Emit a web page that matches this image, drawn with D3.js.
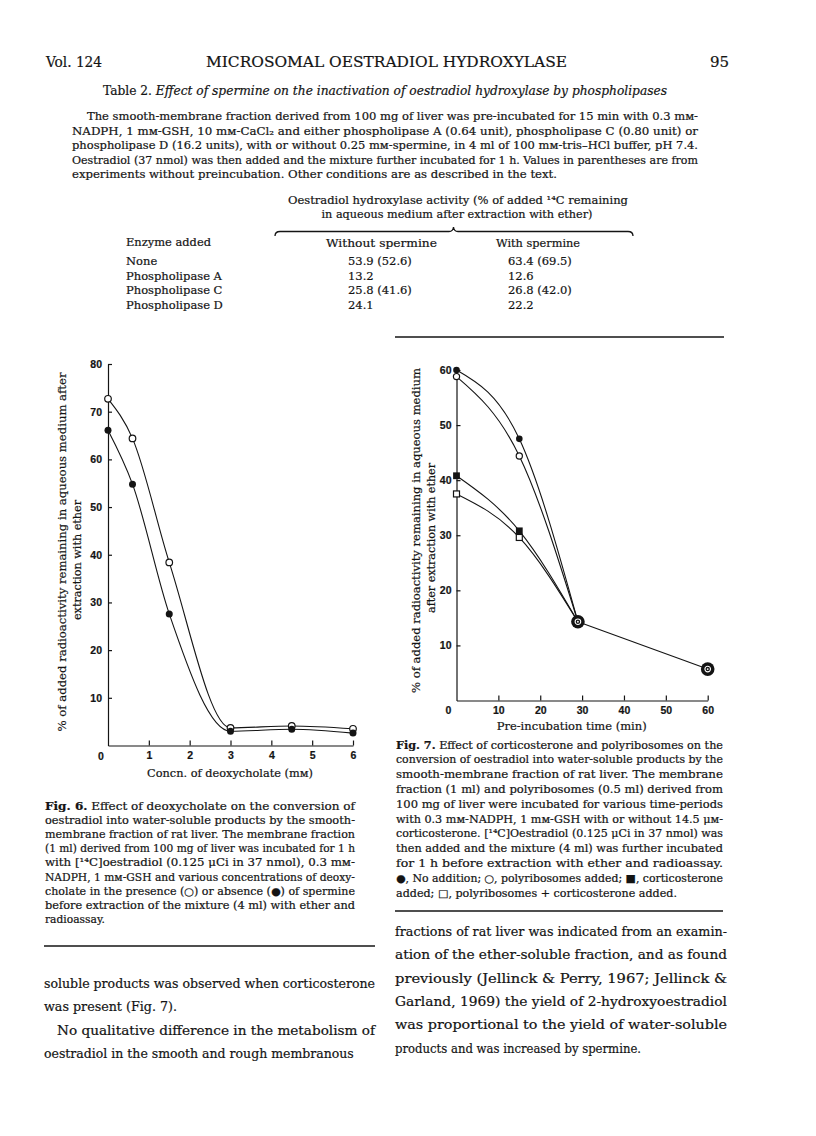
<!DOCTYPE html>
<meta charset="utf-8">
<style>
	body {
		margin: 0;
		background: #ffffff;
	}
	svg text {
		fill: #141414;
		stroke: #141414;
		stroke-width: 0.2px;
		font-family: 'DejaVu Serif', serif;
	}
	.tick text,
	.zero {
		font-family: 'Liberation Sans', 'DejaVu Sans', sans-serif;
		font-weight: bold;
		font-size: 10.5px;
	}
	.axis path,
	.axis line {
		fill: none;
		stroke: #141414;
		stroke-width: 1.2px;
	}
	.curve {
		fill: none;
		stroke: #141414;
		stroke-width: 1.1px;
	}
	.rule {
		stroke: #141414;
		stroke-width: 1.6px;
	}
</style>
<body>
<svg id="page" width="816" height="1136"></svg>

<script src="https://cdn.jsdelivr.net/npm/d3@7"></script>
<script>

// ---- Table 2 ----
var enzymes = ["None", "Phospholipase A", "Phospholipase C", "Phospholipase D"];
var withoutSpermine = [53.9, 13.2, 25.8, 24.1];
var withoutSpermineNoPre = [52.6, null, 41.6, null];
var withSpermine = [63.4, 12.6, 26.8, 22.2];
var withSpermineNoPre = [69.5, null, 42.0, null];

// ---- Fig. 6: deoxycholate ----
var deoxy = [0, 0.6, 1.5, 3, 4.5, 6];
var spermineOpen = [72.7, 64.4, 38.4, 3.7, 4.1, 3.5];    // presence of spermine
var spermineFilled = [66.1, 54.8, 27.6, 3.0, 3.4, 2.6];  // absence of spermine
var fig6YTicks = [10, 20, 30, 40, 50, 60, 70, 80];
var fig6XTicks = [1, 2, 3, 4, 5, 6];

// ---- Fig. 7: pre-incubation ----
var preTime = [0, 15, 29];
var noAddition = [60.0, 47.5, 14.3];
var polyribosomes = [58.8, 44.4, 14.3];
var corticosterone = [40.8, 30.8, 14.3];
var polyCortico = [37.5, 29.6, 14.3];
var sharedTime = [29, 60];
var sharedValue = [14.3, 5.7];
var fig7YTicks = [10, 20, 30, 40, 50, 60];
var fig7XTicks = [10, 20, 30, 40, 50, 60];

// ---- page text ----
var tableNote = [
	"¶The smooth-membrane fraction derived from 100 mg of liver was pre-incubated for 15 min with 0.3 mᴍ-",
	"NADPH, 1 mᴍ-GSH, 10 mᴍ-CaCl₂ and either phospholipase A (0.64 unit), phospholipase C (0.80 unit) or",
	"phospholipase D (16.2 units), with or without 0.25 mᴍ-spermine, in 4 ml of 100 mᴍ-tris–HCl buffer, pH 7.4.",
	"Oestradiol (37 nmol) was then added and the mixture further incubated for 1 h.  Values in parentheses are from",
	"experiments without preincubation.  Other conditions are as described in the text."
];
var fig6Caption = [
	"Fig. 6.  Effect of deoxycholate on the conversion of",
	"oestradiol into water-soluble products by the smooth-",
	"membrane fraction of rat liver.  The membrane fraction",
	"(1 ml) derived from 100 mg of liver was incubated for 1 h",
	"with [¹⁴C]oestradiol (0.125 μCi in 37 nmol), 0.3 mᴍ-",
	"NADPH, 1 mᴍ-GSH and various concentrations of deoxy-",
	"cholate in the presence (○) or absence (●) of spermine",
	"before extraction of the mixture (4 ml) with ether and",
	"radioassay."
];
var fig7Caption = [
	"Fig. 7.  Effect of corticosterone and polyribosomes on the",
	"conversion of oestradiol into water-soluble products by the",
	"smooth-membrane fraction of rat liver.  The membrane",
	"fraction (1 ml) and polyribosomes (0.5 ml) derived from",
	"100 mg of liver were incubated for various time-periods",
	"with 0.3 mᴍ-NADPH, 1 mᴍ-GSH with or without 14.5 μᴍ-",
	"corticosterone.  [¹⁴C]Oestradiol (0.125 μCi in 37 nmol) was",
	"then added and the mixture (4 ml) was further incubated",
	"for 1 h before extraction with ether and radioassay.",
	"●, No addition; ○, polyribosomes added; ■, corticosterone",
	"added; □, polyribosomes + corticosterone added."
];
var leftColumn = [
	"soluble products was observed when corticosterone",
	"was present (Fig. 7).",
	"¶No qualitative difference in the metabolism of",
	"oestradiol in the smooth and rough membranous"
];
var rightColumn = [
	"fractions of rat liver was indicated from an examin-",
	"ation of the ether-soluble fraction, and as found",
	"previously (Jellinck & Perry, 1967; Jellinck &",
	"Garland, 1969) the yield of 2-hydroxyoestradiol",
	"was proportional to the yield of water-soluble",
	"products and was increased by spermine."
];

var svg = d3.select("#page");

// justified block of lines; "¶" marks an indented first line,
// short lines get the width they have on the page
function textBlock(lines, x, y, w, lh, size, indent, shortWidths) {
	var g = svg.append("g").style("font-size", size + "px");
	lines.forEach(function (s, i) {
		var ind = s.charAt(0) === "¶" ? indent : 0;
		var str = s.replace("¶", "");
		var last = i === lines.length - 1 || lines[i + 1].charAt(0) === "¶";
		var t = g.append("text")
			.attr("x", x + ind)
			.attr("y", y + i * lh);
		var m = str.match(/^(Fig\. \d\.)(.*)$/);
		if (m) {
			t.append("tspan").style("font-weight", "bold").text(m[1]);
			t.append("tspan").text(m[2]);
		} else {
			t.text(str);
		}
		var len = last ? (shortWidths && shortWidths[i]) : w - ind;
		if (len) {
			t.attr("textLength", len).attr("lengthAdjust", "spacingAndGlyphs");
		}
	});
}

// ---- running head ----
svg.append("text").attr("x", 46).attr("y", 67).style("font-size", "15px")
	.attr("textLength", 56).attr("lengthAdjust", "spacingAndGlyphs").text("Vol. 124");
svg.append("text").attr("x", 206).attr("y", 67).style("font-size", "15px")
	.attr("textLength", 361).attr("lengthAdjust", "spacingAndGlyphs").text("MICROSOMAL OESTRADIOL HYDROXYLASE");
svg.append("text").attr("x", 729).attr("y", 67).style("font-size", "15px")
	.attr("text-anchor", "end").text("95");

// ---- Table 2 ----
var cap = svg.append("text").attr("x", 103).attr("y", 95).style("font-size", "12px")
	.attr("textLength", 564).attr("lengthAdjust", "spacingAndGlyphs");
cap.append("tspan").text("Table 2.  ");
cap.append("tspan").style("font-style", "italic")
	.text("Effect of spermine on the inactivation of oestradiol hydroxylase by phospholipases");

textBlock(tableNote, 72, 120, 626, 14.6, 11, 15, {4: 485});

svg.append("text").attr("x", 458).attr("y", 203.5).attr("text-anchor", "middle").style("font-size", "11.5px")
	.attr("textLength", 340).attr("lengthAdjust", "spacingAndGlyphs")
	.text("Oestradiol hydroxylase activity (% of added ¹⁴C remaining");
svg.append("text").attr("x", 457).attr("y", 218).attr("text-anchor", "middle").style("font-size", "11.5px")
	.attr("textLength", 271).attr("lengthAdjust", "spacingAndGlyphs")
	.text("in aqueous medium after extraction with ether)");

svg.append("path")
	.attr("d", "M275,236 Q275,231.5 280,231.5 L449,231.5 Q453,231.5 453.5,227 Q454,231.5 458,231.5 L628,231.5 Q633,231.5 633,236")
	.attr("fill", "none").attr("stroke", "#141414").attr("stroke-width", 1.3);

var heads = svg.append("g").style("font-size", "11.5px");
heads.append("text").attr("x", 126).attr("y", 246).attr("textLength", 85)
	.attr("lengthAdjust", "spacingAndGlyphs").text("Enzyme added");
heads.append("text").attr("x", 326).attr("y", 247).attr("textLength", 111)
	.attr("lengthAdjust", "spacingAndGlyphs").text("Without spermine");
heads.append("text").attr("x", 496).attr("y", 247).attr("textLength", 84)
	.attr("lengthAdjust", "spacingAndGlyphs").text("With spermine");

function cell(v, p) {
	return v.toFixed(1) + (p === null ? "" : " (" + p.toFixed(1) + ")");
}
var rowY = d3.scalePoint().domain(enzymes).range([265, 309]);
var rows = svg.append("g").style("font-size", "11.5px")
	.selectAll("g").data(enzymes).enter().append("g");
rows.append("text").attr("x", 126).attr("y", function (d) { return rowY(d); }).text(function (d) { return d; });
rows.append("text").attr("x", 348).attr("y", function (d) { return rowY(d); })
	.text(function (d, i) { return cell(withoutSpermine[i], withoutSpermineNoPre[i]); });
rows.append("text").attr("x", 508).attr("y", function (d) { return rowY(d); })
	.text(function (d, i) { return cell(withSpermine[i], withSpermineNoPre[i]); });

// ---- Fig. 6 ----
var x6 = d3.scaleLinear().domain([0, 6]).range([108, 353]);
var y6 = d3.scaleLinear().domain([0, 80]).range([745.5, 364]);
var fig6 = svg.append("g");
var intFmt = d3.format("d");

fig6.append("g").attr("class", "axis").attr("transform", "translate(" + x6(0) + ",0)")
	.call(d3.axisLeft(y6).tickValues(fig6YTicks).tickFormat(intFmt).tickSize(-4).tickSizeOuter(0).tickPadding(6));
fig6.append("g").attr("class", "axis").attr("transform", "translate(0," + y6(0) + ")")
	.call(d3.axisBottom(x6).tickValues(fig6XTicks).tickFormat(intFmt).tickSize(-5).tickSizeOuter(0).tickPadding(6.5));
fig6.append("text").attr("class", "zero").attr("x", x6(0) - 7).attr("y", y6(0) + 14)
	.attr("text-anchor", "middle").text("0");

var line6 = d3.line()
	.x(function (d, i) { return x6(deoxy[i]); })
	.y(function (d) { return y6(d); })
	.curve(d3.curveMonotoneX);
fig6.append("path").attr("class", "curve").attr("d", line6(spermineOpen));
fig6.append("path").attr("class", "curve").attr("d", line6(spermineFilled));

fig6.selectAll(".open6").data(spermineOpen).enter().append("circle")
	.attr("cx", function (d, i) { return x6(deoxy[i]); })
	.attr("cy", function (d) { return y6(d); })
	.attr("r", 3.3).attr("fill", "#fff").attr("stroke", "#141414").attr("stroke-width", 1.2);
fig6.selectAll(".filled6").data(spermineFilled).enter().append("circle")
	.attr("cx", function (d, i) { return x6(deoxy[i]); })
	.attr("cy", function (d) { return y6(d); })
	.attr("r", 3.5).attr("fill", "#141414");

fig6.append("text").attr("transform", "translate(65.5,552) rotate(-90)").attr("text-anchor", "middle")
	.style("font-size", "11.5px").attr("textLength", 359).attr("lengthAdjust", "spacingAndGlyphs")
	.text("% of added radioactivity remaining in aqueous medium after");
fig6.append("text").attr("transform", "translate(80.5,560) rotate(-90)").attr("text-anchor", "middle")
	.style("font-size", "11.5px").attr("textLength", 120).attr("lengthAdjust", "spacingAndGlyphs")
	.text("extraction with ether");
fig6.append("text").attr("x", 230).attr("y", 777).attr("text-anchor", "middle")
	.style("font-size", "11.5px").attr("textLength", 166).attr("lengthAdjust", "spacingAndGlyphs")
	.text("Concn. of deoxycholate (mᴍ)");

// ---- Fig. 7 ----
var x7 = d3.scaleLinear().domain([0, 60]).range([456.5, 707.7]);
var y7 = d3.scaleLinear().domain([0, 60]).range([700.5, 370]);
var fig7 = svg.append("g");

fig7.append("g").attr("class", "axis").attr("transform", "translate(" + x7(0) + ",0)")
	.call(d3.axisLeft(y7).tickValues(fig7YTicks).tickFormat(intFmt).tickSize(-4).tickSizeOuter(0).tickPadding(5));
fig7.append("g").attr("class", "axis").attr("transform", "translate(0," + y7(0) + ")")
	.call(d3.axisBottom(x7).tickValues(fig7XTicks).tickFormat(intFmt).tickSize(-5).tickSizeOuter(0).tickPadding(6));
fig7.append("text").attr("class", "zero").attr("x", x7(0) - 8).attr("y", y7(0) + 13.5)
	.attr("text-anchor", "middle").text("0");

var line7 = d3.line()
	.x(function (d, i) { return x7(preTime[i]); })
	.y(function (d) { return y7(d); })
	.curve(d3.curveMonotoneX);
[noAddition, polyribosomes, corticosterone, polyCortico].forEach(function (s) {
	fig7.append("path").attr("class", "curve").attr("d", line7(s));
});
fig7.append("path").attr("class", "curve")
	.attr("d", d3.line()
		.x(function (d, i) { return x7(sharedTime[i]); })
		.y(function (d) { return y7(d); })(sharedValue));

// first two points of each series carry their own symbol
function firstTwo(s) { return s.slice(0, 2); }
fig7.selectAll(".c1").data(firstTwo(noAddition)).enter().append("circle")
	.attr("cx", function (d, i) { return x7(preTime[i]); }).attr("cy", function (d) { return y7(d); })
	.attr("r", 3.3).attr("fill", "#141414");
fig7.selectAll(".c2").data(firstTwo(polyribosomes)).enter().append("circle")
	.attr("cx", function (d, i) { return x7(preTime[i]); }).attr("cy", function (d) { return y7(d); })
	.attr("r", 3.1).attr("fill", "#fff").attr("stroke", "#141414").attr("stroke-width", 1.2);
fig7.selectAll(".s1").data(firstTwo(corticosterone)).enter().append("rect")
	.attr("x", function (d, i) { return x7(preTime[i]) - 3.4; }).attr("y", function (d) { return y7(d) - 3.4; })
	.attr("width", 6.8).attr("height", 6.8).attr("fill", "#141414");
fig7.selectAll(".s2").data(firstTwo(polyCortico)).enter().append("rect")
	.attr("x", function (d, i) { return x7(preTime[i]) - 3; }).attr("y", function (d) { return y7(d) - 3; })
	.attr("width", 6).attr("height", 6).attr("fill", "#fff").attr("stroke", "#141414").attr("stroke-width", 1.2);

// coincident points: all four symbols overlaid
var shared = fig7.selectAll(".shared").data(sharedValue).enter().append("g")
	.attr("transform", function (d, i) { return "translate(" + x7(sharedTime[i]) + "," + y7(d) + ")"; });
shared.append("circle").attr("r", 6.8).attr("fill", "#141414");
shared.append("circle").attr("r", 2.8).attr("fill", "none").attr("stroke", "#fff").attr("stroke-width", 1.1);
shared.append("circle").attr("r", 0.9).attr("fill", "#fff");

fig7.append("text").attr("transform", "translate(419.5,530.5) rotate(-90)").attr("text-anchor", "middle")
	.style("font-size", "11.5px").attr("textLength", 325).attr("lengthAdjust", "spacingAndGlyphs")
	.text("% of added radioactivity remaining in aqueous medium");
fig7.append("text").attr("transform", "translate(434.5,538) rotate(-90)").attr("text-anchor", "middle")
	.style("font-size", "11.5px").attr("textLength", 150).attr("lengthAdjust", "spacingAndGlyphs")
	.text("after extraction with ether");
fig7.append("text").attr("x", 571.7).attr("y", 729.5).attr("text-anchor", "middle")
	.style("font-size", "11.5px").attr("textLength", 150).attr("lengthAdjust", "spacingAndGlyphs")
	.text("Pre-incubation time (min)");

// ---- captions, rules and running text ----
svg.append("line").attr("class", "rule").attr("x1", 395).attr("x2", 724).attr("y1", 337).attr("y2", 337);
textBlock(fig6Caption, 45, 810, 310, 14.1, 10.5, 0, {8: 60});
textBlock(fig7Caption, 396, 748.5, 327, 14.8, 10.5, 0, {10: 281});
svg.append("line").attr("class", "rule").attr("x1", 395).attr("x2", 723).attr("y1", 911).attr("y2", 911);
svg.append("line").attr("class", "rule").attr("x1", 44).attr("x2", 375).attr("y1", 946).attr("y2", 946);
textBlock(leftColumn, 44, 988, 331, 23.3, 12.5, 13, {1: 133});
textBlock(rightColumn, 395, 936, 332, 23.3, 12.5, 13, {5: 246});

</script>
</body>
